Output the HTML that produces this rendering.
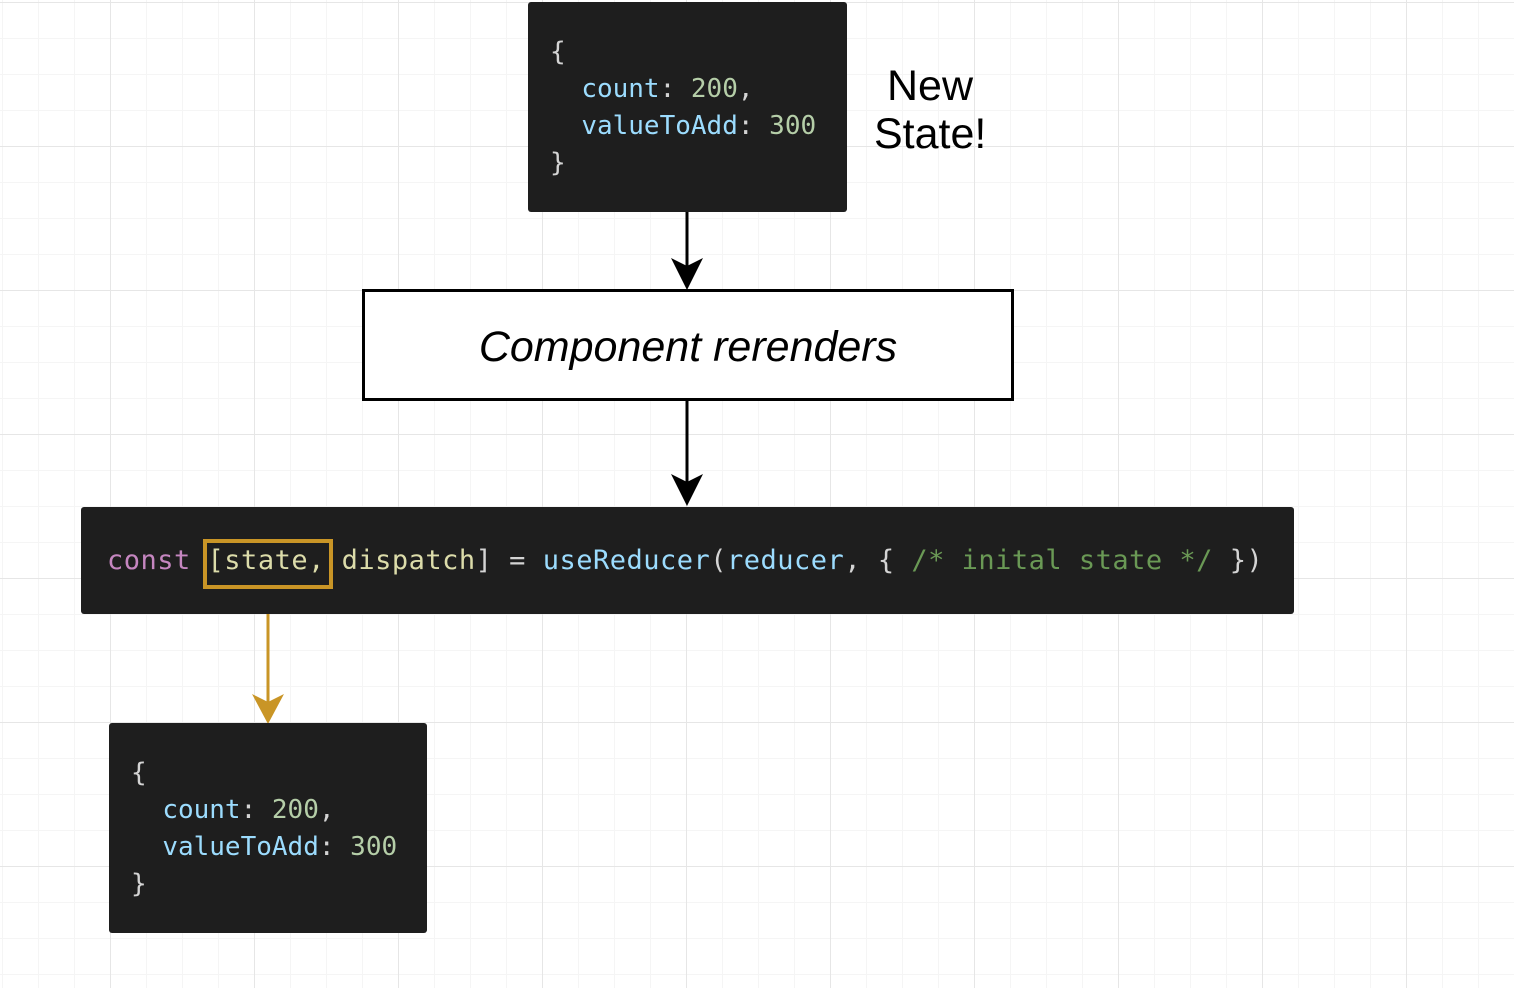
<!DOCTYPE html>
<html><head><meta charset="utf-8"><style>
body{margin:0;width:1514px;height:988px;overflow:hidden;position:relative;font-family:"Liberation Sans",sans-serif;
background-color:#fff;
background-image:linear-gradient(#e6e6e6 1px,transparent 1px),linear-gradient(90deg,#e6e6e6 1px,transparent 1px),linear-gradient(#f5f5f5 1px,transparent 1px),linear-gradient(90deg,#f5f5f5 1px,transparent 1px);
background-size:144px 144px,144px 144px,36px 36px,36px 36px;
background-position:0 2px,-34px 0,0 2px,-34px 0;}
.code{position:absolute;background:#1e1e1e;border-radius:3px;font-family:"DejaVu Sans Mono","Liberation Mono",monospace;color:#d4d4d4;white-space:pre;}
.k{color:#9cdcfe}
.n{color:#b5cea8}
.p{color:#c586c0}
.y{color:#dcdcaa}
.f{color:#9cdcfe}
.c{color:#6a9955}
</style></head><body>

<div class="code" style="left:528px;top:2px;width:319px;height:210px;font-size:26px;line-height:37px;">
<div style="position:absolute;left:22px;top:32px;">{
  <span class="k">count</span>: <span class="n">200</span>,
  <span class="k">valueToAdd</span>: <span class="n">300</span>
}</div></div>

<div style="position:absolute;left:874px;top:62px;font-size:43px;line-height:48px;color:#000;text-align:center;width:112px;">New<br>State!</div>

<svg width="1514" height="988" style="position:absolute;left:0;top:0">
<line x1="687" y1="212" x2="687" y2="268" stroke="#000" stroke-width="3"/>
<polygon points="671,258 687,290 703,258 687,266" fill="#000"/>
<line x1="687" y1="399" x2="687" y2="486" stroke="#000" stroke-width="3"/>
<polygon points="671,474 687,506 703,474 687,482" fill="#000"/>
<line x1="268" y1="589" x2="268" y2="705" stroke="#c99526" stroke-width="3"/>
<polygon points="252,694 268,724 284,694 268,702" fill="#c99526"/>
</svg>

<div style="position:absolute;left:362px;top:289px;width:646px;height:106px;border:3px solid #000;background:#fff;display:flex;align-items:center;justify-content:center;font-style:italic;font-size:43px;padding-top:4px;box-sizing:content-box;height:102px;">Component rerenders</div>

<div class="code" style="left:81px;top:507px;width:1213px;height:107px;font-size:27px;letter-spacing:0.5px;">
<div style="position:absolute;left:26px;top:38px;"><span class="p">const</span> <span class="y">[state,</span> <span class="y">dispatch</span>] = <span class="f">useReducer</span>(<span class="f">reducer</span>, { <span class="c">/* inital state */</span> })</div></div>
<div style="position:absolute;left:203px;top:539px;width:122px;height:42px;border:4px solid #c99526;"></div>

<div class="code" style="left:109px;top:723px;width:318px;height:210px;font-size:26px;line-height:37px;">
<div style="position:absolute;left:22px;top:32px;">{
  <span class="k">count</span>: <span class="n">200</span>,
  <span class="k">valueToAdd</span>: <span class="n">300</span>
}</div></div>

</body></html>
